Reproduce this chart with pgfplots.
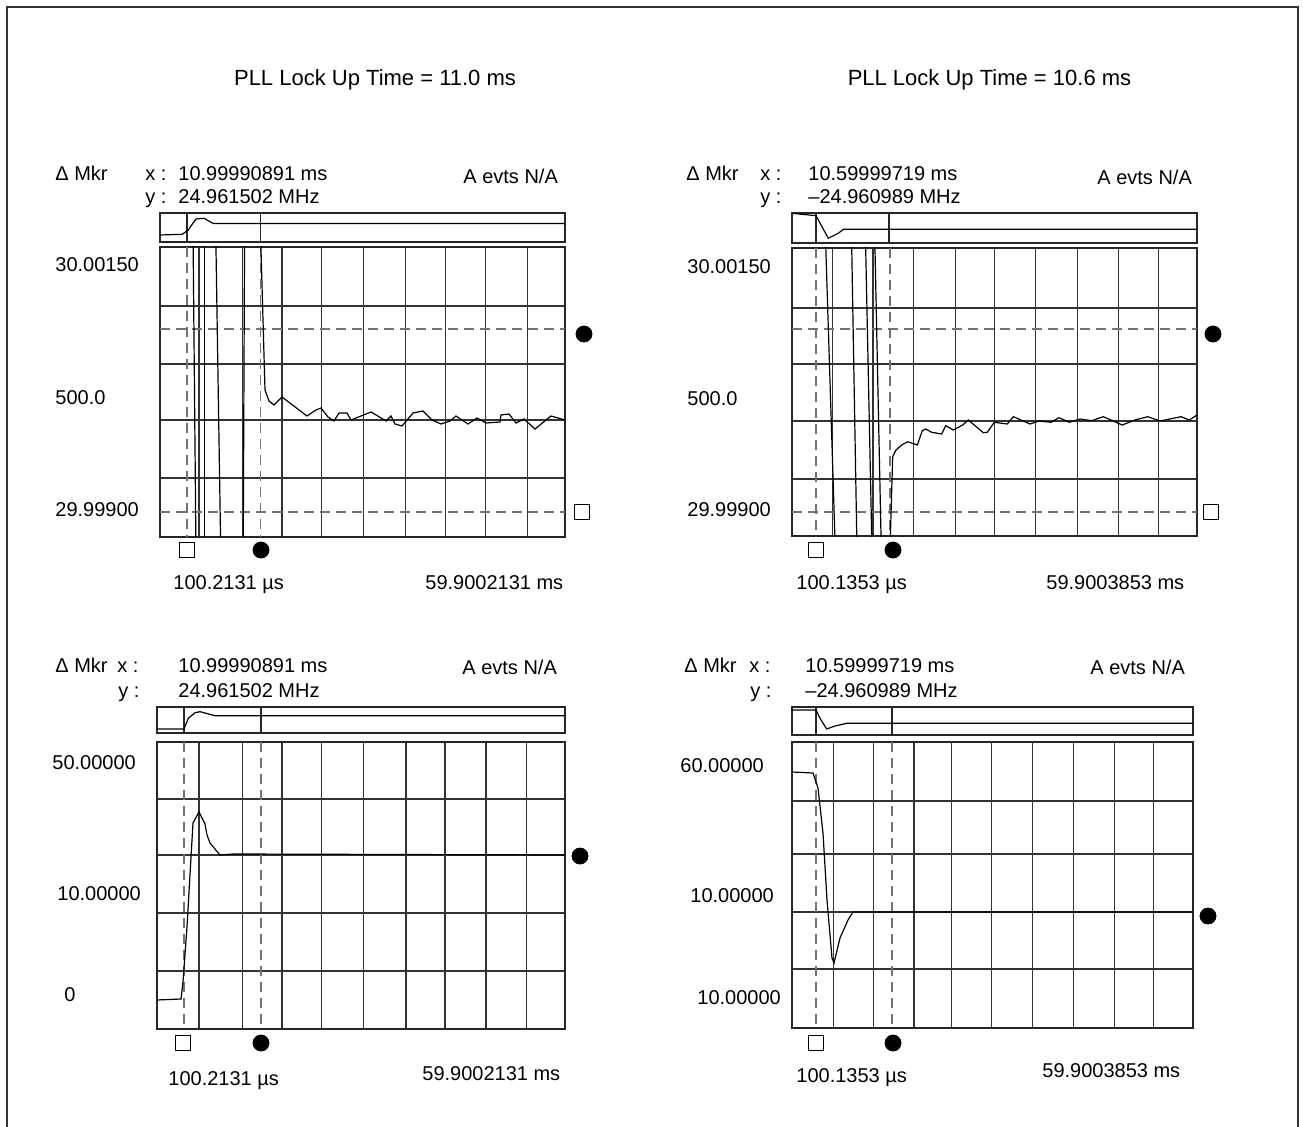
\documentclass[border=0pt]{standalone}
\usepackage{fontspec}
\setmainfont{Liberation Sans}
\usepackage{pgfplots}
\pgfplotsset{compat=1.18}
\pgfplotsset{
 panel/.style={scale only axis, y dir=reverse, anchor=center, xticklabels={}, yticklabels={},
   tick style={draw=none}, grid=major, major grid style={line width=0.6pt, black!80},
   axis line style={line width=0.65pt, black!85}},
 strip/.style={scale only axis, y dir=reverse, anchor=center, xtick=\empty, ytick=\empty,
   axis line style={line width=0.65pt, black!85}},
 trace/.style={black, line width=0.6pt, mark=none},
 vl/.style={black!85, line width=0.6pt, mark=none},
 dsh/.style={black!55, line width=0.7pt, dash pattern=on 5pt off 3pt, mark=none},
}
\begin{document}
\begin{tikzpicture}
\path[use as bounding box] (0,0) rectangle (651.5pt,-563.5pt);

% ---------------- Top-left ----------------
\begin{axis}[strip, at={(181.25pt,-113.75pt)}, width=202.5pt, height=14.5pt,
  xmin=160, xmax=565, ymin=213, ymax=242]
\addplot[vl] coordinates {(187,213) (187,242)};
\addplot[vl] coordinates {(260.7,213) (260.7,242)};
\addplot[trace] coordinates {(160,235) (182.3,234.3) (188.3,230) (191.7,225) (196,219) (204,218.3) (213.3,223.5) (565,223.5)};
\end{axis}
\begin{axis}[panel, at={(181.25pt,-196pt)}, width=202.5pt, height=145pt,
  xmin=160, xmax=565, ymin=247, ymax=537,
  xtick={199,242.7,282,321.7,363.3,405.7,445.3,485.5,527.3}, ytick={306,364,420,478}]
\addplot[dsh] coordinates {(187,247) (187,537)};
\addplot[dsh] coordinates {(260.7,247) (260.7,537)};
\addplot[dsh] coordinates {(160,329) (565,329)};
\addplot[dsh] coordinates {(160,512) (565,512)};
\addplot[trace] coordinates {(193,230) (196,554)};
\addplot[trace] coordinates {(204.5,230) (204.5,554)};
\addplot[trace] coordinates {(215.7,230) (220.8,554)};
\addplot[trace] coordinates {(243.2,554) (244.6,230)};
\addplot[trace] coordinates {(260.5,232) (265,390) (269,401) (274,405) (282,397) (307,416) (316,410) (321,408) (328,417) (334,421) (339,413) (347,413) (351,420) (371,412) (386,421) (391,416) (395,424) (402,426) (413,413) (423,411) (432,420) (441,424) (450,421) (456,416) (468,424) (477,418) (486,423) (500,422) (501,415) (509,414) (516,423) (524,419) (535,429) (551,416) (565,420)};
\end{axis}

% ---------------- Top-right ----------------
\begin{axis}[strip, at={(497.25pt,-114pt)}, width=202.5pt, height=15pt,
  xmin=792, xmax=1197, ymin=213, ymax=243]
\addplot[vl] coordinates {(816,213) (816,243)};
\addplot[vl] coordinates {(889,213) (889,243)};
\addplot[trace] coordinates {(792,213.3) (816,215.7) (828.3,238.3) (838.3,233.3) (843.3,229.3) (1197,229.3)};
\end{axis}
\begin{axis}[panel, at={(497.25pt,-196pt)}, width=202.5pt, height=144pt,
  xmin=792, xmax=1197, ymin=248, ymax=536,
  xtick={832.7,873,913.7,955.7,994.3,1035.7,1077.3,1118.3,1158.3}, ytick={308,364,421,479}]
\addplot[dsh] coordinates {(816,248) (816,536)};
\addplot[dsh] coordinates {(890,248) (890,536)};
\addplot[dsh] coordinates {(792,329) (1197,329)};
\addplot[dsh] coordinates {(792,512) (1197,512)};
\addplot[trace] coordinates {(825.4,235) (835.3,550)};
\addplot[trace] coordinates {(851.5,235) (857,550)};
\addplot[trace] coordinates {(865.4,235) (872,550)};
\addplot[trace] coordinates {(874.7,235) (881.3,550)};
\addplot[trace] coordinates {(889.8,556) (892.7,456.7) (896,450) (901.7,445) (907.7,441.7) (917.3,445) (922.3,430.7) (925.7,429) (931.7,432.3) (941.7,434) (945.7,425.7) (953.3,430) (962.7,425) (968.3,420) (983.3,432.7) (987.3,432.3) (994.3,422.3) (1007.3,424) (1013.3,416.7) (1030,424) (1039,421) (1051,422.3) (1059,417.7) (1069.3,422.3) (1080,419) (1091.7,420.7) (1103.3,416.7) (1122.3,425) (1135,420) (1147.7,416.7) (1160,421) (1181,416.7) (1189.3,420) (1197,415)};
\end{axis}

% ---------------- Bottom-left ----------------
\begin{axis}[strip, at={(180.5pt,-360pt)}, width=204pt, height=13pt,
  xmin=157, xmax=565, ymin=707, ymax=733]
\addplot[vl] coordinates {(184,707) (184,733)};
\addplot[vl] coordinates {(261,707) (261,733)};
\addplot[trace] coordinates {(157,729) (184,729) (188.3,718.3) (195,712.7) (200,711.7) (215,715.7) (565,715.7)};
\end{axis}
\begin{axis}[panel, at={(180.5pt,-442.75pt)}, width=204pt, height=143.5pt,
  xmin=157, xmax=565, ymin=742, ymax=1029,
  xtick={199,242.7,282,321.7,363.3,406,445,486,526.7}, ytick={799,855,913,971}]
\addplot[dsh] coordinates {(184,742) (184,1029)};
\addplot[dsh] coordinates {(261,742) (261,1029)};
\addplot[trace] coordinates {(157,1000) (181,999) (183,982) (187,927) (193,823) (199,812) (205,824) (207,835) (210,843) (220,855) (233,854) (565,855)};
\end{axis}

% ---------------- Bottom-right ----------------
\begin{axis}[strip, at={(496.25pt,-360.5pt)}, width=200.5pt, height=14pt,
  xmin=792, xmax=1193, ymin=707, ymax=735]
\addplot[vl] coordinates {(816,707) (816,735)};
\addplot[vl] coordinates {(892,707) (892,735)};
\addplot[trace] coordinates {(792,710) (816,710) (820,718.3) (826.7,729) (835,726) (846.7,723.3) (1193,723.3)};
\end{axis}
\begin{axis}[panel, at={(496.25pt,-442.5pt)}, width=200.5pt, height=143pt,
  xmin=792, xmax=1193, ymin=742, ymax=1028,
  xtick={833.3,873.3,914,951.7,991.7,1032.7,1073.3,1114.3,1153.3}, ytick={801,854,912,969}]
\addplot[dsh] coordinates {(816,742) (816,1028)};
\addplot[dsh] coordinates {(892,742) (892,1028)};
\addplot[trace] coordinates {(792,772) (813,773) (818,788) (823,833) (827,900) (832,958) (834,963) (840,938) (848,920) (853,912) (1193,912)};
\end{axis}

% ---------------- Overlay: frame, markers, texts ----------------
\begin{axis}[at={(325.75pt,-281.75pt)}, anchor=center, scale only axis, width=651.5pt, height=563.5pt,
  xmin=0, xmax=1303, ymin=0, ymax=1127, y dir=reverse, hide axis, clip=false]
\draw[line width=0.7pt, black!80] (axis cs:7,1127) -- (axis cs:7,7) -- (axis cs:1298,7) -- (axis cs:1298,1127);
\addplot[only marks, mark=*, mark size=4pt, black] coordinates {(584,334) (261,550) (1213,334) (893,550) (580,856) (261,1043) (1208,916) (893,1043)};
\addplot[only marks, mark=square*, mark size=3.7pt, black, line width=0.5pt, mark options={fill=white, draw=black}] coordinates {(582,512) (187,550) (1211,512) (816,550) (183,1043) (816,1043)};

\tikzset{lbl/.style={font=\fontsize{10}{12}\selectfont, inner sep=0pt, anchor=base west},
         ttl/.style={font=\fontsize{11}{13}\selectfont, inner sep=0pt, anchor=base}}
% titles
\node[ttl] at (axis cs:375,85) {PLL Lock Up Time = 11.0 ms};
\node[ttl] at (axis cs:989.5,85) {PLL Lock Up Time = 10.6 ms};
% top-left
\node[lbl] at (axis cs:55,180) {Δ Mkr};
\node[lbl] at (axis cs:145,180) {x :};
\node[lbl] at (axis cs:178,180) {10.99990891 ms};
\node[lbl] at (axis cs:463,183) {A evts N/A};
\node[lbl] at (axis cs:145,203) {y :};
\node[lbl] at (axis cs:178,203) {24.961502 MHz};
\node[lbl] at (axis cs:55,271) {30.00150};
\node[lbl] at (axis cs:55,404) {500.0};
\node[lbl] at (axis cs:55,516) {29.99900};
\node[lbl] at (axis cs:173,589) {100.2131 µs};
\node[lbl] at (axis cs:425,589) {59.9002131 ms};
% top-right
\node[lbl] at (axis cs:686,180) {Δ Mkr};
\node[lbl] at (axis cs:760,180) {x :};
\node[lbl] at (axis cs:808,180) {10.59999719 ms};
\node[lbl] at (axis cs:1097,184) {A evts N/A};
\node[lbl] at (axis cs:760,203) {y :};
\node[lbl] at (axis cs:808,203) {–24.960989 MHz};
\node[lbl] at (axis cs:687,273) {30.00150};
\node[lbl] at (axis cs:687,405) {500.0};
\node[lbl] at (axis cs:687,516) {29.99900};
\node[lbl] at (axis cs:796,589) {100.1353 µs};
\node[lbl] at (axis cs:1046,589) {59.9003853 ms};
% bottom-left
\node[lbl] at (axis cs:55,672) {Δ Mkr};
\node[lbl] at (axis cs:117,672) {x :};
\node[lbl] at (axis cs:178,672) {10.99990891 ms};
\node[lbl] at (axis cs:462,674) {A evts N/A};
\node[lbl] at (axis cs:118,697) {y :};
\node[lbl] at (axis cs:178,697) {24.961502 MHz};
\node[lbl] at (axis cs:52,769) {50.00000};
\node[lbl] at (axis cs:57,900) {10.00000};
\node[lbl] at (axis cs:64,1001) {0};
\node[lbl] at (axis cs:168,1085) {100.2131 µs};
\node[lbl] at (axis cs:422,1080) {59.9002131 ms};
% bottom-right
\node[lbl] at (axis cs:684,672) {Δ Mkr};
\node[lbl] at (axis cs:749,672) {x :};
\node[lbl] at (axis cs:805,672) {10.59999719 ms};
\node[lbl] at (axis cs:1090,674) {A evts N/A};
\node[lbl] at (axis cs:750,697) {y :};
\node[lbl] at (axis cs:805,697) {–24.960989 MHz};
\node[lbl] at (axis cs:680,772) {60.00000};
\node[lbl] at (axis cs:690,902) {10.00000};
\node[lbl] at (axis cs:697,1004) {10.00000};
\node[lbl] at (axis cs:796,1082) {100.1353 µs};
\node[lbl] at (axis cs:1042,1077) {59.9003853 ms};
\end{axis}
\end{tikzpicture}
\end{document}
